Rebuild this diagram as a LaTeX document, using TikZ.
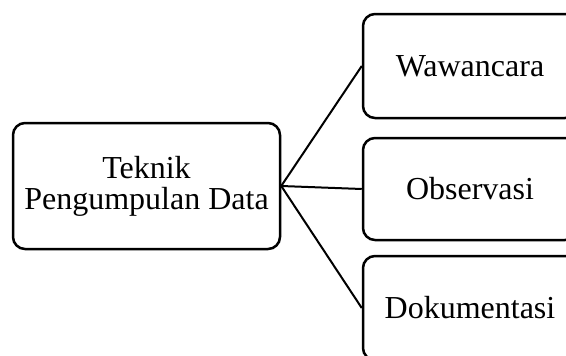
\documentclass[tikz,border=0pt]{standalone}
\usepackage{fontspec}
\setmainfont{Liberation Serif}
\begin{document}
\begin{tikzpicture}[x=1pt, y=-1pt,
		kotak/.style={draw, line width=2.5pt, rounded corners=12pt, align=center,
			font=\fontsize{32}{31}\selectfont},
		garis/.style={line width=2pt}]
		\clip (0,0) rectangle (566,356);
		\useasboundingbox (0,0) rectangle (566,356);
		
		\node[kotak, minimum width=267pt, minimum height=126pt] (teknik) at (146.5, 186) {Teknik\\Pengumpulan Data};
		\node[kotak, minimum width=214pt, minimum height=104pt] (wawancara) at (470, 66) {Wawancara};
		\node[kotak, minimum width=214pt, minimum height=102pt] (observasi) at (470, 189) {Observasi};
		\node[kotak, minimum width=214pt, minimum height=104pt] (dokumentasi) at (470, 308) {Dokumentasi};
		
		\draw[garis] (teknik.east) -- (wawancara.west);
		\draw[garis] (teknik.east) -- (observasi.west);
		\draw[garis] (teknik.east) -- (dokumentasi.west);
		\end{tikzpicture}
\end{document}
